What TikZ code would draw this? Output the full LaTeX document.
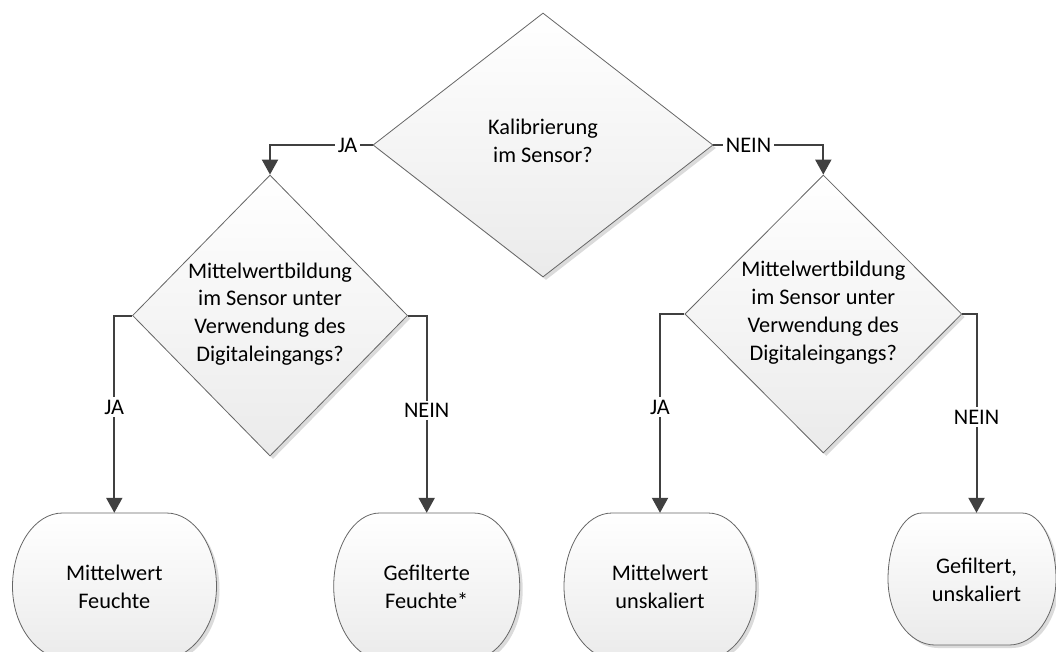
\documentclass[tikz,border=0pt]{standalone}
\usepackage{fontspec}
\setmainfont{Carlito}
\usetikzlibrary{shapes.geometric,arrows.meta,shadows}
\newcommand{\txtfont}{\fontsize{22.3}{27.8}\selectfont}
\newcommand{\ctext}[2]{\makebox[0pt]{\raisebox{#1}{\smash{\begin{tabular}[c]{@{}c@{}}#2\end{tabular}}}}}
% terminal outline: #1 style, #2 cx, #3 top, #4 bottom, #5 half width, #6 half top flat, #7 half bottom flat
\newcommand{\termdraw}[7]{%
  \path[#1] ({#2-#6},{#3}) -- ({#2+#6},{#3})
    .. controls ({#2+#6+0.552*(#5-#6)},{#3}) and ({#2+#5},{#3+0.224*(#4-(#3))}) .. ({#2+#5},{(#3+#4)/2})
    .. controls ({#2+#5},{#4-0.224*(#4-(#3))}) and ({#2+#7+0.552*(#5-#7)},{#4}) .. ({#2+#7},{#4})
    -- ({#2-#7},{#4})
    .. controls ({#2-#7-0.552*(#5-#7)},{#4}) and ({#2-#5},{#4-0.224*(#4-(#3))}) .. ({#2-#5},{(#3+#4)/2})
    .. controls ({#2-#5},{#3+0.224*(#4-(#3))}) and ({#2-#6-0.552*(#5-#6)},{#3}) .. cycle;}
\newcommand{\termshape}[6]{%
  \termdraw{tshadow}{#1+3}{#2+3}{#3+3}{#4}{#5}{#6}%
  \termdraw{tbody}{#1}{#2}{#3}{#4}{#5}{#6}}
\begin{document}
\begin{tikzpicture}[x=1pt,y=-1pt,
  decision/.style={diamond, draw=black!60, line width=0.8pt, top color=white, bottom color=black!8,
    inner sep=0pt, font=\txtfont,
    drop shadow={shadow xshift=3pt, shadow yshift=-3pt, fill=black!14, opacity=1}},
  conn/.style={draw=black!75, line width=2pt, -{Triangle[width=16pt,length=15pt]}},
  lbl/.style={fill=white, inner sep=2.5pt, font=\txtfont, text=black},
  termtext/.style={align=center, inner sep=0pt, font=\txtfont},
  tbody/.style={draw=black!60, line width=0.8pt, top color=white, bottom color=black!8},
  tshadow/.style={fill=black!14}]
\useasboundingbox (0,0) rectangle (1056,651);

% decisions
\node[decision, minimum width=340pt, minimum height=264pt] (d0) at (543,145)
  {\ctext{-6pt}{Kalibrierung\\im Sensor?}};
\node[decision, minimum width=275pt, minimum height=281pt] (d1) at (270,315.5)
  {\ctext{-8pt}{Mittelwertbildung\\im Sensor unter\\Verwendung des\\Digitaleingangs?}};
\node[decision, minimum width=277pt, minimum height=278pt] (d2) at (823.3,314)
  {\ctext{-8pt}{Mittelwertbildung\\im Sensor unter\\Verwendung des\\Digitaleingangs?}};

% terminal outlines
\termshape{114.5}{513}{660}{102}{52}{45}
\termshape{426.7}{513}{660}{93}{47}{43}
\termshape{660}{513}{660}{96}{48}{43}
\termshape{972}{513}{645}{84}{50}{37}

% terminal texts
\node[termtext, minimum width=180pt, minimum height=147pt] (t1) at (114.3,586.5) {Mittelwert\\Feuchte};
\node[termtext, minimum width=170pt, minimum height=147pt] (t2) at (426.7,586.5) {Gefilterte\\Feuchte*};
\node[termtext, minimum width=170pt, minimum height=147pt] (t3) at (660,586.5) {Mittelwert\\unskaliert};
\node[termtext, minimum width=150pt, minimum height=134pt] (t4) at (976.5,580) {Gefiltert,\\unskaliert};

% connectors
\draw[conn] (d0.west) -| node[lbl, pos=0.122] {JA} (d1.north);
\draw[conn] (d0.east) -| node[lbl, pos=0.16] {NEIN} (d2.north);
\draw[conn] (d1.west) -| node[lbl, pos=0.732] {JA} (t1.north);
\draw[conn] (d1.east) -| node[lbl, pos=0.74] {NEIN} (t2.north);
\draw[conn] (d2.west) -| node[lbl, pos=0.734] {JA} (t3.north);
\draw[conn] (d2.east) -| node[lbl, pos=0.759] {NEIN} (t4.north);
\end{tikzpicture}
\end{document}
